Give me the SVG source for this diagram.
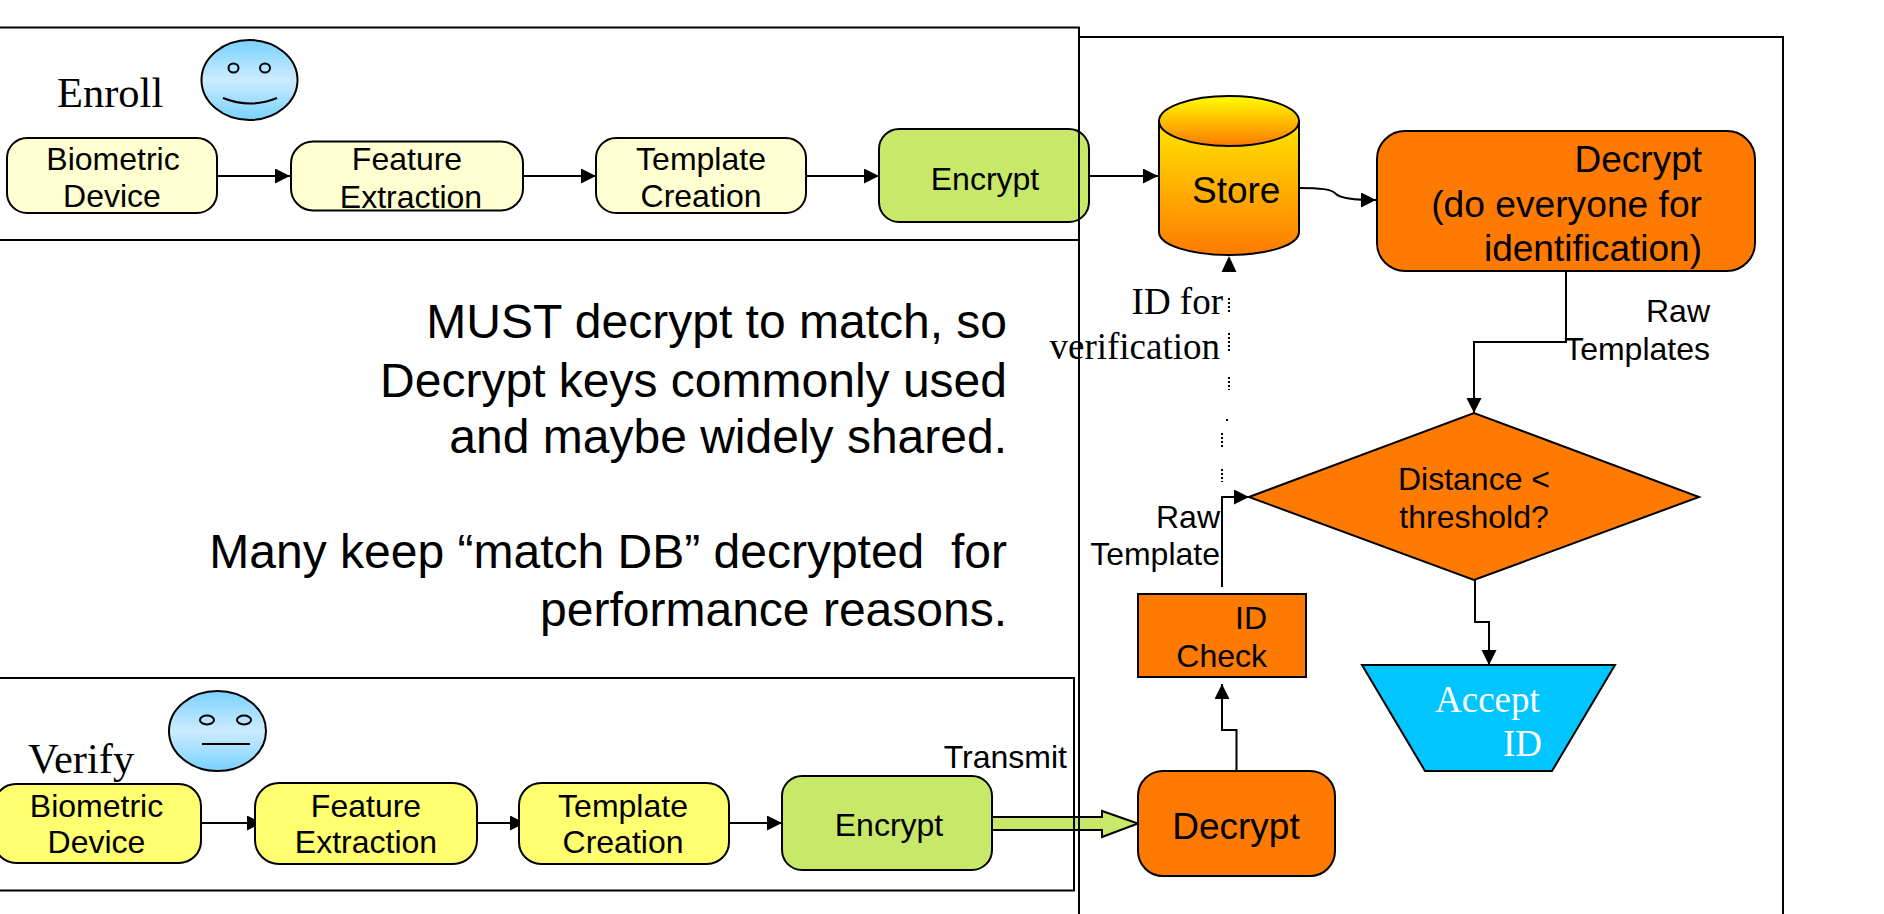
<svg xmlns="http://www.w3.org/2000/svg" width="1884" height="914" viewBox="0 0 1884 914">
<style>
.s{font-family:"Liberation Sans",Arial,sans-serif;fill:#000}
.t{font-family:"Liberation Serif","Times New Roman",serif;fill:#000}
.m{text-anchor:middle}.e{text-anchor:end}
.f32{font-size:32px}.f37{font-size:37px}.f48{font-size:48px}
.box{stroke:#000;stroke-width:2}
.cream{fill:#FFFFD2}.yel{fill:#FFFF70}.grn{fill:#C8E86A}.org{fill:#FF7A00}
.frame{fill:none;stroke:#000;stroke-width:2}
.c{fill:none;stroke:#000;stroke-width:2}
.d{fill:none;stroke:#000;stroke-width:2;stroke-dasharray:2 2}
.face{fill:url(#fg);stroke:#000;stroke-width:2}
.fl{fill:none;stroke:#000;stroke-width:2}
</style>
<defs>
<linearGradient id="fg" x1="0" y1="0" x2="0" y2="1"><stop offset="0" stop-color="#78D2FF"/><stop offset=".5" stop-color="#CDEBFF"/><stop offset="1" stop-color="#78D2FF"/></linearGradient>
<linearGradient id="cyl" x1="0" y1="0" x2="0" y2="1"><stop offset="0" stop-color="#FFE600"/><stop offset="1" stop-color="#FF7A00"/></linearGradient>
<linearGradient id="cyt" x1="0" y1="0" x2="0" y2="1"><stop offset="0" stop-color="#FFFF00"/><stop offset="1" stop-color="#FF7A00"/></linearGradient>
<marker id="a" markerUnits="userSpaceOnUse" markerWidth="16" markerHeight="16" refX="15" refY="7.5" orient="auto"><path d="M0 0L15 7.5L0 15Z" fill="#000"/></marker>
</defs>
<rect width="1884" height="914" fill="#fff"/>

<g id="panel-right"><path class="frame" d="M1079 37H1783V914M1079 37V914"/></g>

<g id="node-encrypt-top"><rect class="box grn" x="879" y="129" width="210" height="93" rx="20"/><text class="s f32 m" x="985" y="190">Encrypt</text></g>
<g id="panel-enroll"><path class="frame" d="M0 27.500H1079V240H0"/></g>
<g id="panel-verify"><path class="frame" d="M0 678H1074V890.500H0"/></g>

<g id="connectors">
<path class="c" marker-end="url(#a)" d="M217 176H290"/>
<path class="c" marker-end="url(#a)" d="M523 176H596"/>
<path class="c" marker-end="url(#a)" d="M806 176H879"/>
<path class="c" marker-end="url(#a)" d="M1089 176H1158"/>
<path class="c" marker-end="url(#a)" d="M1299 188C1320 188 1332 189 1336 194C1341 199 1356 200 1376 200"/>
<path class="c" marker-end="url(#a)" d="M1566 271V342H1474V413"/>
<path class="c" marker-end="url(#a)" d="M1222 587V497H1249"/>
<path class="c" marker-end="url(#a)" d="M1475 580V622H1489V665"/>
<path class="c" marker-end="url(#a)" d="M1236.500 777V730H1222V684"/>
<path d="M1229 256L1236.500 272H1221.500Z" fill="#000"/>
<path class="d" d="M1229 298V312M1229 333V351M1229 377V390M1222 433V447M1222 469V482"/>
<path class="d" d="M1226 420H1230"/>
<path class="c" marker-end="url(#a)" d="M201 823H262"/>
<path class="c" marker-end="url(#a)" d="M471 823H525"/>
<path class="c" marker-end="url(#a)" d="M729 823H782"/>
<path d="M992 817H1102V811L1138 823.500L1102 837V830H992Z" fill="#C8E86A" stroke="#000" stroke-width="2"/>
<path class="c" d="M1074 678V890M1079 780V880"/>
</g>

<g id="face-enroll"><ellipse class="face" cx="249.500" cy="80" rx="48" ry="40"/><ellipse class="fl" cx="233.500" cy="68" rx="5" ry="4.500"/><ellipse class="fl" cx="265" cy="68" rx="5" ry="4.500"/><path class="fl" d="M223 98Q250 109 277 98"/></g>
<g id="label-enroll"><text class="t" font-size="42.500" x="57" y="107">Enroll</text></g>
<g id="node-bio-top"><rect class="box cream" x="7" y="138" width="210" height="75" rx="20"/><text class="s f32 m" x="113" y="170">Biometric</text><text class="s f32 m" x="112" y="207">Device</text></g>
<g id="node-feature-top"><rect class="box cream" x="291" y="141.500" width="232" height="69" rx="22"/><text class="s f32 m" x="407" y="170">Feature</text><text class="s f32 m" x="411" y="207.500">Extraction</text></g>
<g id="node-template-top"><rect class="box cream" x="596" y="138" width="210" height="75" rx="20"/><text class="s f32 m" x="701" y="170">Template</text><text class="s f32 m" x="701" y="207">Creation</text></g>

<g id="node-store">
<path d="M1159 121V232C1159 245 1190 255 1229 255S1299 245 1299 232V121Z" fill="url(#cyl)" stroke="#000" stroke-width="2"/>
<ellipse cx="1229" cy="121" rx="70" ry="25" fill="url(#cyt)" stroke="#000" stroke-width="2"/>
<text class="s f37" x="1192" y="203">Store</text></g>
<g id="node-decrypt-top"><rect class="box org" x="1377" y="131" width="378" height="140" rx="28"/><text class="s f37 e" x="1702" y="172">Decrypt</text><text class="s e" font-size="37.200" x="1702" y="217">(do everyone for</text><text class="s f37 e" x="1702" y="261">identification)</text></g>
<g id="label-raw-templates"><text class="s f32 e" x="1710" y="322">Raw</text><text class="s f32 e" x="1710" y="360">Templates</text></g>
<g id="node-distance"><path class="box org" d="M1249 497L1474 413L1699 497L1474 580Z"/><text class="s f32 m" x="1474" y="490">Distance &lt;</text><text class="s f32 m" x="1474" y="528">threshold?</text></g>
<g id="node-accept"><path d="M1362 665H1615L1552 771H1425Z" fill="#00C5FF" stroke="#000" stroke-width="2"/><text class="t f37" style="fill:#fff" x="1435" y="712">Accept</text><text class="t f37 e" style="fill:#fff" x="1542" y="756">ID</text></g>
<g id="node-idcheck"><rect class="box org" x="1138" y="594" width="168" height="83"/><text class="s f32 e" x="1267" y="629">ID</text><text class="s f32 e" x="1267" y="667">Check</text></g>
<g id="node-decrypt-bottom"><rect class="box org" x="1138" y="771" width="197" height="105" rx="25"/><text class="s f37 m" x="1236" y="839">Decrypt</text></g>
<g id="label-id-verification"><text class="t f37 e" x="1223" y="314">ID for</text><text class="t f37 e" x="1220" y="359">verification</text></g>
<g id="label-raw-template"><text class="s f32 e" x="1220" y="528">Raw</text><text class="s f32 e" x="1220" y="565">Template</text></g>

<g id="note"><text class="s f48 e" x="1007" y="338">MUST decrypt to match, so</text><text class="s f48 e" x="1007" y="397">Decrypt keys commonly used</text><text class="s f48 e" x="1007" y="453">and maybe widely shared.</text><text class="s f48 e" x="1007" y="568">Many keep “match DB” decrypted&#160; for</text><text class="s f48 e" x="1007" y="626">performance reasons.</text></g>

<g id="face-verify"><ellipse class="face" cx="217.500" cy="731" rx="48.500" ry="40"/><ellipse class="fl" cx="207" cy="720" rx="7" ry="4.500"/><ellipse class="fl" cx="244" cy="720" rx="7" ry="4.500"/><path class="fl" d="M202 744H250"/></g>
<g id="label-verify"><text class="t" font-size="42.500" x="28" y="773">Verify</text></g>
<g id="node-bio-bottom"><rect class="box yel" x="-6" y="784" width="207" height="79" rx="22"/><text class="s f32 m" x="96.500" y="817">Biometric</text><text class="s f32 m" x="96.500" y="853">Device</text></g>
<g id="node-feature-bottom"><rect class="box yel" x="255" y="783" width="222" height="81" rx="24"/><text class="s f32 m" x="366" y="817">Feature</text><text class="s f32 m" x="366" y="853">Extraction</text></g>
<g id="node-template-bottom"><rect class="box yel" x="519" y="783" width="210" height="81" rx="22"/><text class="s f32 m" x="623" y="817">Template</text><text class="s f32 m" x="623" y="853">Creation</text></g>
<g id="node-encrypt-bottom"><rect class="box grn" x="782" y="776" width="210" height="94" rx="20"/><text class="s f32 m" x="889" y="836">Encrypt</text></g>
<g id="label-transmit"><text class="s e" font-size="32" x="1067" y="768">Transmit</text></g>
</svg>
